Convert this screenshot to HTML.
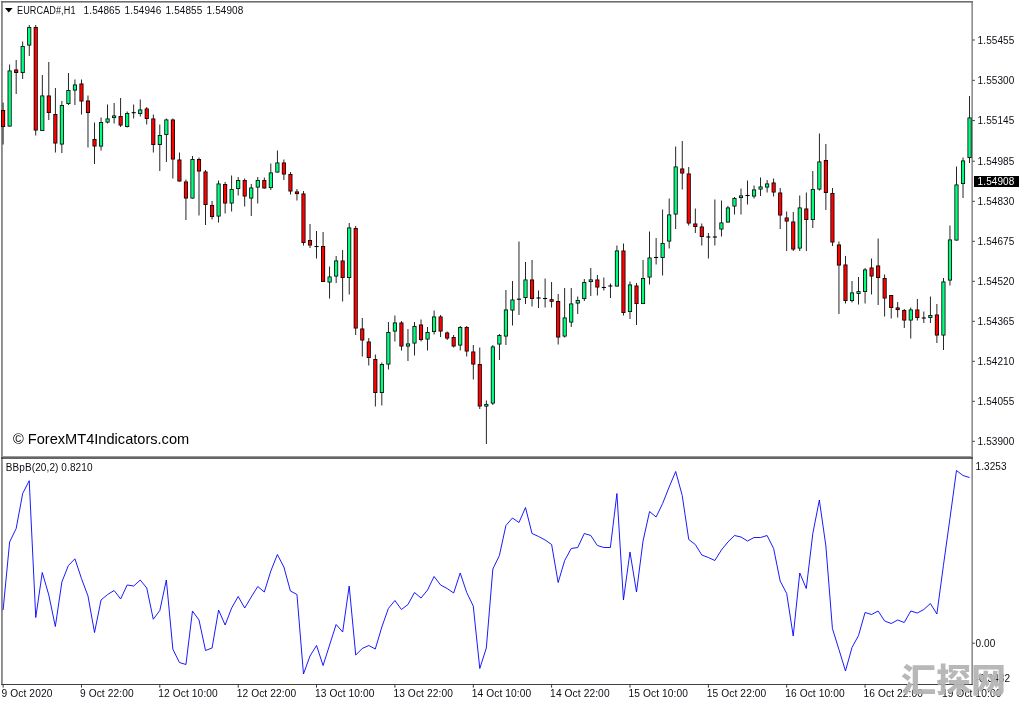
<!DOCTYPE html>
<html><head><meta charset="utf-8"><title>EURCAD#,H1</title>
<style>
html,body{margin:0;padding:0;background:#fff;}
body{width:1024px;height:704px;position:relative;overflow:hidden;font-family:"Liberation Sans","Noto Sans CJK SC",sans-serif;color:#000;}
.t{position:absolute;white-space:nowrap;font-size:10px;letter-spacing:0.1px;line-height:12px;color:#0c0c14;}
.p{left:977.6px;}
.wm{position:absolute;left:901.2px;top:654.4px;transform:scaleX(1.045);transform-origin:0 0;font-family:"Noto Sans CJK SC","WenQuanYi Zen Hei",sans-serif;font-weight:900;font-size:33.5px;line-height:48px;color:rgba(180,180,180,0.94);white-space:nowrap;letter-spacing:0px;}
.cp{position:absolute;left:974px;top:176px;width:45px;height:11px;background:#000;}
</style></head><body>
<svg width="1024" height="704" viewBox="0 0 1024 704" style="position:absolute;left:0;top:0">
<g fill="#6e6e6e">
<rect x="1" y="1" width="972" height="1.6"/>
<rect x="1.2" y="1" width="1.5" height="684"/>
<rect x="971.5" y="1" width="1.25" height="684"/>
</g>
<rect x="1" y="456" width="972" height="1.3" fill="#9a9a9a"/>
<rect x="1" y="457.3" width="972" height="1.45" fill="#333"/>
<rect x="1" y="684" width="971.8" height="1" fill="#404040"/>
<rect x="972.5" y="39.55" width="2.3" height="0.9" fill="#222"/>
<rect x="972.5" y="79.85" width="2.3" height="0.9" fill="#222"/>
<rect x="972.5" y="120.15" width="2.3" height="0.9" fill="#222"/>
<rect x="972.5" y="160.75" width="2.3" height="0.9" fill="#222"/>
<rect x="972.5" y="200.85" width="2.3" height="0.9" fill="#222"/>
<rect x="972.5" y="240.85" width="2.3" height="0.9" fill="#222"/>
<rect x="972.5" y="280.85" width="2.3" height="0.9" fill="#222"/>
<rect x="972.5" y="320.85" width="2.3" height="0.9" fill="#222"/>
<rect x="972.5" y="360.85" width="2.3" height="0.9" fill="#222"/>
<rect x="972.5" y="400.85" width="2.3" height="0.9" fill="#222"/>
<rect x="972.5" y="440.85" width="2.3" height="0.9" fill="#222"/>
<rect x="972.5" y="642.75" width="2.3" height="0.9" fill="#222"/>
<rect x="2.65" y="685" width="0.9" height="2.6" fill="#222"/>
<rect x="81.01" y="685" width="0.9" height="2.6" fill="#222"/>
<rect x="159.37" y="685" width="0.9" height="2.6" fill="#222"/>
<rect x="237.73" y="685" width="0.9" height="2.6" fill="#222"/>
<rect x="316.09" y="685" width="0.9" height="2.6" fill="#222"/>
<rect x="394.45" y="685" width="0.9" height="2.6" fill="#222"/>
<rect x="472.81" y="685" width="0.9" height="2.6" fill="#222"/>
<rect x="551.17" y="685" width="0.9" height="2.6" fill="#222"/>
<rect x="629.53" y="685" width="0.9" height="2.6" fill="#222"/>
<rect x="707.89" y="685" width="0.9" height="2.6" fill="#222"/>
<rect x="786.25" y="685" width="0.9" height="2.6" fill="#222"/>
<rect x="864.61" y="685" width="0.9" height="2.6" fill="#222"/>
<rect x="942.97" y="685" width="0.9" height="2.6" fill="#222"/>
<rect x="2.68" y="102.5" width="0.85" height="42" fill="#000"/>
<rect x="1.05" y="110" width="4.1" height="17" fill="#000"/>
<rect x="1.85" y="110.8" width="2.5" height="15.4" fill="#ff0000"/>
<rect x="9.21" y="64.5" width="0.85" height="62" fill="#000"/>
<rect x="7.58" y="70.5" width="4.1" height="56" fill="#000"/>
<rect x="8.38" y="71.3" width="2.5" height="54.4" fill="#00ff7f"/>
<rect x="15.73" y="60" width="0.85" height="34" fill="#000"/>
<rect x="14.11" y="69.5" width="4.1" height="3.5" fill="#000"/>
<rect x="14.91" y="70.3" width="2.5" height="1.9" fill="#ff0000"/>
<rect x="22.27" y="41.5" width="0.85" height="37.5" fill="#000"/>
<rect x="20.64" y="46" width="4.1" height="27" fill="#000"/>
<rect x="21.44" y="46.8" width="2.5" height="25.4" fill="#00ff7f"/>
<rect x="28.8" y="25" width="0.85" height="31" fill="#000"/>
<rect x="27.17" y="27" width="4.1" height="18.5" fill="#000"/>
<rect x="27.97" y="27.8" width="2.5" height="16.9" fill="#00ff7f"/>
<rect x="35.33" y="25" width="0.85" height="110.5" fill="#000"/>
<rect x="33.7" y="27" width="4.1" height="103.5" fill="#000"/>
<rect x="34.5" y="27.8" width="2.5" height="101.9" fill="#ff0000"/>
<rect x="41.86" y="75" width="0.85" height="56" fill="#000"/>
<rect x="40.23" y="95.5" width="4.1" height="35.5" fill="#000"/>
<rect x="41.03" y="96.3" width="2.5" height="33.9" fill="#00ff7f"/>
<rect x="48.39" y="62" width="0.85" height="58" fill="#000"/>
<rect x="46.76" y="95.5" width="4.1" height="17.5" fill="#000"/>
<rect x="47.56" y="96.3" width="2.5" height="15.9" fill="#ff0000"/>
<rect x="54.92" y="88" width="0.85" height="64.5" fill="#000"/>
<rect x="53.29" y="114" width="4.1" height="29.5" fill="#000"/>
<rect x="54.09" y="114.8" width="2.5" height="27.9" fill="#ff0000"/>
<rect x="61.45" y="101" width="0.85" height="52" fill="#000"/>
<rect x="59.82" y="105" width="4.1" height="39.5" fill="#000"/>
<rect x="60.62" y="105.8" width="2.5" height="37.9" fill="#00ff7f"/>
<rect x="67.97" y="73" width="0.85" height="32" fill="#000"/>
<rect x="66.35" y="90" width="4.1" height="14" fill="#000"/>
<rect x="67.15" y="90.8" width="2.5" height="12.4" fill="#00ff7f"/>
<rect x="74.5" y="79.5" width="0.85" height="25.5" fill="#000"/>
<rect x="72.88" y="84.5" width="4.1" height="6" fill="#000"/>
<rect x="73.68" y="85.3" width="2.5" height="4.4" fill="#00ff7f"/>
<rect x="81.03" y="79.5" width="0.85" height="35" fill="#000"/>
<rect x="79.41" y="83.5" width="4.1" height="18" fill="#000"/>
<rect x="80.21" y="84.3" width="2.5" height="16.4" fill="#ff0000"/>
<rect x="87.56" y="95.5" width="0.85" height="52" fill="#000"/>
<rect x="85.94" y="100.5" width="4.1" height="12.5" fill="#000"/>
<rect x="86.74" y="101.3" width="2.5" height="10.9" fill="#ff0000"/>
<rect x="94.09" y="122.5" width="0.85" height="41.5" fill="#000"/>
<rect x="92.47" y="139" width="4.1" height="7.5" fill="#000"/>
<rect x="93.27" y="139.8" width="2.5" height="5.9" fill="#ff0000"/>
<rect x="100.62" y="117.5" width="0.85" height="33" fill="#000"/>
<rect x="99" y="122" width="4.1" height="24.5" fill="#000"/>
<rect x="99.8" y="122.8" width="2.5" height="22.9" fill="#00ff7f"/>
<rect x="107.16" y="104.5" width="0.85" height="19" fill="#000"/>
<rect x="105.53" y="118.5" width="4.1" height="4" fill="#000"/>
<rect x="106.33" y="119.3" width="2.5" height="2.4" fill="#00ff7f"/>
<rect x="113.69" y="103" width="0.85" height="20.5" fill="#000"/>
<rect x="112.06" y="115.45" width="4.1" height="2.6" fill="#000"/>
<rect x="112.86" y="116.25" width="2.5" height="1" fill="#00ff7f"/>
<rect x="120.22" y="98" width="0.85" height="29" fill="#000"/>
<rect x="118.59" y="116" width="4.1" height="9.5" fill="#000"/>
<rect x="119.39" y="116.8" width="2.5" height="7.9" fill="#ff0000"/>
<rect x="126.75" y="111.5" width="0.85" height="16" fill="#000"/>
<rect x="125.12" y="113" width="4.1" height="14" fill="#000"/>
<rect x="125.92" y="113.8" width="2.5" height="12.4" fill="#00ff7f"/>
<rect x="133.27" y="104.5" width="0.85" height="14" fill="#000"/>
<rect x="131.65" y="112.15" width="4.1" height="1.1" fill="#000"/>
<rect x="139.8" y="99.5" width="0.85" height="17" fill="#000"/>
<rect x="138.18" y="109.5" width="4.1" height="4.5" fill="#000"/>
<rect x="138.98" y="110.3" width="2.5" height="2.9" fill="#00ff7f"/>
<rect x="146.33" y="107" width="0.85" height="17.5" fill="#000"/>
<rect x="144.71" y="108.5" width="4.1" height="10.5" fill="#000"/>
<rect x="145.51" y="109.3" width="2.5" height="8.9" fill="#ff0000"/>
<rect x="152.86" y="114.5" width="0.85" height="38" fill="#000"/>
<rect x="151.24" y="118.5" width="4.1" height="26.5" fill="#000"/>
<rect x="152.04" y="119.3" width="2.5" height="24.9" fill="#ff0000"/>
<rect x="159.39" y="124.5" width="0.85" height="46.5" fill="#000"/>
<rect x="157.77" y="135" width="4.1" height="10" fill="#000"/>
<rect x="158.57" y="135.8" width="2.5" height="8.4" fill="#00ff7f"/>
<rect x="165.92" y="118.5" width="0.85" height="43.5" fill="#000"/>
<rect x="164.3" y="119.5" width="4.1" height="15.5" fill="#000"/>
<rect x="165.1" y="120.3" width="2.5" height="13.9" fill="#00ff7f"/>
<rect x="172.45" y="118.5" width="0.85" height="60" fill="#000"/>
<rect x="170.83" y="119.5" width="4.1" height="40" fill="#000"/>
<rect x="171.63" y="120.3" width="2.5" height="38.4" fill="#ff0000"/>
<rect x="178.98" y="152.5" width="0.85" height="29" fill="#000"/>
<rect x="177.36" y="159.5" width="4.1" height="22" fill="#000"/>
<rect x="178.16" y="160.3" width="2.5" height="20.4" fill="#ff0000"/>
<rect x="185.51" y="179.5" width="0.85" height="40.5" fill="#000"/>
<rect x="183.89" y="181.5" width="4.1" height="17" fill="#000"/>
<rect x="184.69" y="182.3" width="2.5" height="15.4" fill="#ff0000"/>
<rect x="192.04" y="156" width="0.85" height="42.5" fill="#000"/>
<rect x="190.42" y="159" width="4.1" height="39.5" fill="#000"/>
<rect x="191.22" y="159.8" width="2.5" height="37.9" fill="#00ff7f"/>
<rect x="198.57" y="157.5" width="0.85" height="58" fill="#000"/>
<rect x="196.95" y="159" width="4.1" height="12.5" fill="#000"/>
<rect x="197.75" y="159.8" width="2.5" height="10.9" fill="#ff0000"/>
<rect x="205.1" y="170" width="0.85" height="55" fill="#000"/>
<rect x="203.48" y="171.5" width="4.1" height="33.5" fill="#000"/>
<rect x="204.28" y="172.3" width="2.5" height="31.9" fill="#ff0000"/>
<rect x="211.63" y="201" width="0.85" height="18.5" fill="#000"/>
<rect x="210.01" y="205" width="4.1" height="12" fill="#000"/>
<rect x="210.81" y="205.8" width="2.5" height="10.4" fill="#ff0000"/>
<rect x="218.16" y="180.5" width="0.85" height="42" fill="#000"/>
<rect x="216.54" y="183.5" width="4.1" height="33" fill="#000"/>
<rect x="217.34" y="184.3" width="2.5" height="31.4" fill="#00ff7f"/>
<rect x="224.69" y="182" width="0.85" height="31.5" fill="#000"/>
<rect x="223.07" y="184" width="4.1" height="19.5" fill="#000"/>
<rect x="223.87" y="184.8" width="2.5" height="17.9" fill="#ff0000"/>
<rect x="231.22" y="175.5" width="0.85" height="36" fill="#000"/>
<rect x="229.6" y="189" width="4.1" height="14.5" fill="#000"/>
<rect x="230.4" y="189.8" width="2.5" height="12.9" fill="#00ff7f"/>
<rect x="237.75" y="177" width="0.85" height="18.5" fill="#000"/>
<rect x="236.13" y="180" width="4.1" height="9" fill="#000"/>
<rect x="236.93" y="180.8" width="2.5" height="7.4" fill="#00ff7f"/>
<rect x="244.28" y="178.5" width="0.85" height="28" fill="#000"/>
<rect x="242.66" y="180" width="4.1" height="16.5" fill="#000"/>
<rect x="243.46" y="180.8" width="2.5" height="14.9" fill="#ff0000"/>
<rect x="250.81" y="184" width="0.85" height="32" fill="#000"/>
<rect x="249.19" y="187.5" width="4.1" height="11" fill="#000"/>
<rect x="249.99" y="188.3" width="2.5" height="9.4" fill="#00ff7f"/>
<rect x="257.35" y="177" width="0.85" height="26.5" fill="#000"/>
<rect x="255.72" y="180" width="4.1" height="7.5" fill="#000"/>
<rect x="256.52" y="180.8" width="2.5" height="5.9" fill="#00ff7f"/>
<rect x="263.88" y="177.5" width="0.85" height="11" fill="#000"/>
<rect x="262.25" y="180" width="4.1" height="8.5" fill="#000"/>
<rect x="263.05" y="180.8" width="2.5" height="6.9" fill="#ff0000"/>
<rect x="270.41" y="163.5" width="0.85" height="26.5" fill="#000"/>
<rect x="268.78" y="172.5" width="4.1" height="15.5" fill="#000"/>
<rect x="269.58" y="173.3" width="2.5" height="13.9" fill="#00ff7f"/>
<rect x="276.94" y="150.5" width="0.85" height="22" fill="#000"/>
<rect x="275.31" y="162.5" width="4.1" height="10" fill="#000"/>
<rect x="276.11" y="163.3" width="2.5" height="8.4" fill="#00ff7f"/>
<rect x="283.47" y="159.5" width="0.85" height="20.5" fill="#000"/>
<rect x="281.84" y="162.5" width="4.1" height="12" fill="#000"/>
<rect x="282.64" y="163.3" width="2.5" height="10.4" fill="#ff0000"/>
<rect x="290" y="172" width="0.85" height="22.5" fill="#000"/>
<rect x="288.37" y="174" width="4.1" height="17.5" fill="#000"/>
<rect x="289.17" y="174.8" width="2.5" height="15.9" fill="#ff0000"/>
<rect x="296.53" y="189" width="0.85" height="11.5" fill="#000"/>
<rect x="294.9" y="191.45" width="4.1" height="2.6" fill="#000"/>
<rect x="295.7" y="192.25" width="2.5" height="1" fill="#ff0000"/>
<rect x="303.06" y="191" width="0.85" height="54.5" fill="#000"/>
<rect x="301.43" y="193.5" width="4.1" height="49.5" fill="#000"/>
<rect x="302.23" y="194.3" width="2.5" height="47.9" fill="#ff0000"/>
<rect x="309.59" y="224" width="0.85" height="24" fill="#000"/>
<rect x="307.96" y="240" width="4.1" height="5.5" fill="#000"/>
<rect x="308.76" y="240.8" width="2.5" height="3.9" fill="#ff0000"/>
<rect x="316.12" y="231" width="0.85" height="27.5" fill="#000"/>
<rect x="314.49" y="245.95" width="4.1" height="1.1" fill="#000"/>
<rect x="322.65" y="232" width="0.85" height="50" fill="#000"/>
<rect x="321.02" y="246" width="4.1" height="36" fill="#000"/>
<rect x="321.82" y="246.8" width="2.5" height="34.4" fill="#ff0000"/>
<rect x="329.18" y="266.5" width="0.85" height="32" fill="#000"/>
<rect x="327.55" y="276.5" width="4.1" height="6" fill="#000"/>
<rect x="328.35" y="277.3" width="2.5" height="4.4" fill="#00ff7f"/>
<rect x="335.71" y="256" width="0.85" height="27" fill="#000"/>
<rect x="334.08" y="260.5" width="4.1" height="16" fill="#000"/>
<rect x="334.88" y="261.3" width="2.5" height="14.4" fill="#00ff7f"/>
<rect x="342.24" y="250" width="0.85" height="51.5" fill="#000"/>
<rect x="340.61" y="260.5" width="4.1" height="17.5" fill="#000"/>
<rect x="341.41" y="261.3" width="2.5" height="15.9" fill="#ff0000"/>
<rect x="348.77" y="223" width="0.85" height="71.5" fill="#000"/>
<rect x="347.14" y="227.5" width="4.1" height="50.5" fill="#000"/>
<rect x="347.94" y="228.3" width="2.5" height="48.9" fill="#00ff7f"/>
<rect x="355.3" y="226" width="0.85" height="109" fill="#000"/>
<rect x="353.67" y="228" width="4.1" height="100.5" fill="#000"/>
<rect x="354.47" y="228.8" width="2.5" height="98.9" fill="#ff0000"/>
<rect x="361.83" y="318" width="0.85" height="38.5" fill="#000"/>
<rect x="360.2" y="328.5" width="4.1" height="12" fill="#000"/>
<rect x="361" y="329.3" width="2.5" height="10.4" fill="#ff0000"/>
<rect x="368.36" y="338" width="0.85" height="27.5" fill="#000"/>
<rect x="366.73" y="341.5" width="4.1" height="16.5" fill="#000"/>
<rect x="367.53" y="342.3" width="2.5" height="14.9" fill="#ff0000"/>
<rect x="374.89" y="354.5" width="0.85" height="52" fill="#000"/>
<rect x="373.26" y="359" width="4.1" height="34" fill="#000"/>
<rect x="374.06" y="359.8" width="2.5" height="32.4" fill="#ff0000"/>
<rect x="381.42" y="362.5" width="0.85" height="43" fill="#000"/>
<rect x="379.79" y="364" width="4.1" height="29" fill="#000"/>
<rect x="380.59" y="364.8" width="2.5" height="27.4" fill="#00ff7f"/>
<rect x="387.95" y="322" width="0.85" height="47.5" fill="#000"/>
<rect x="386.32" y="332" width="4.1" height="32.5" fill="#000"/>
<rect x="387.12" y="332.8" width="2.5" height="30.9" fill="#00ff7f"/>
<rect x="394.48" y="315.5" width="0.85" height="26" fill="#000"/>
<rect x="392.85" y="322.5" width="4.1" height="9" fill="#000"/>
<rect x="393.65" y="323.3" width="2.5" height="7.4" fill="#00ff7f"/>
<rect x="401.01" y="321" width="0.85" height="29.5" fill="#000"/>
<rect x="399.38" y="322.5" width="4.1" height="24" fill="#000"/>
<rect x="400.18" y="323.3" width="2.5" height="22.4" fill="#ff0000"/>
<rect x="407.54" y="329" width="0.85" height="32" fill="#000"/>
<rect x="405.91" y="343.5" width="4.1" height="3" fill="#000"/>
<rect x="406.71" y="344.3" width="2.5" height="1.4" fill="#00ff7f"/>
<rect x="414.07" y="322" width="0.85" height="33.5" fill="#000"/>
<rect x="412.44" y="326" width="4.1" height="17.5" fill="#000"/>
<rect x="413.24" y="326.8" width="2.5" height="15.9" fill="#00ff7f"/>
<rect x="420.6" y="319.5" width="0.85" height="22" fill="#000"/>
<rect x="418.97" y="324.5" width="4.1" height="15.5" fill="#000"/>
<rect x="419.77" y="325.3" width="2.5" height="13.9" fill="#ff0000"/>
<rect x="427.12" y="327" width="0.85" height="23.5" fill="#000"/>
<rect x="425.5" y="332" width="4.1" height="7.5" fill="#000"/>
<rect x="426.3" y="332.8" width="2.5" height="5.9" fill="#00ff7f"/>
<rect x="433.66" y="310.5" width="0.85" height="24" fill="#000"/>
<rect x="432.03" y="316.5" width="4.1" height="15.5" fill="#000"/>
<rect x="432.83" y="317.3" width="2.5" height="13.9" fill="#00ff7f"/>
<rect x="440.19" y="315" width="0.85" height="22" fill="#000"/>
<rect x="438.56" y="316.5" width="4.1" height="15" fill="#000"/>
<rect x="439.36" y="317.3" width="2.5" height="13.4" fill="#ff0000"/>
<rect x="446.72" y="331.5" width="0.85" height="8.5" fill="#000"/>
<rect x="445.09" y="332.5" width="4.1" height="6" fill="#000"/>
<rect x="445.89" y="333.3" width="2.5" height="4.4" fill="#ff0000"/>
<rect x="453.25" y="335" width="0.85" height="12.5" fill="#000"/>
<rect x="451.62" y="337" width="4.1" height="9.5" fill="#000"/>
<rect x="452.42" y="337.8" width="2.5" height="7.9" fill="#ff0000"/>
<rect x="459.78" y="326" width="0.85" height="24.5" fill="#000"/>
<rect x="458.15" y="327" width="4.1" height="18.5" fill="#000"/>
<rect x="458.95" y="327.8" width="2.5" height="16.9" fill="#00ff7f"/>
<rect x="466.31" y="326" width="0.85" height="30.5" fill="#000"/>
<rect x="464.68" y="327" width="4.1" height="24.5" fill="#000"/>
<rect x="465.48" y="327.8" width="2.5" height="22.9" fill="#ff0000"/>
<rect x="472.84" y="345" width="0.85" height="34.5" fill="#000"/>
<rect x="471.21" y="351.5" width="4.1" height="13" fill="#000"/>
<rect x="472.01" y="352.3" width="2.5" height="11.4" fill="#ff0000"/>
<rect x="479.37" y="347.5" width="0.85" height="61.5" fill="#000"/>
<rect x="477.74" y="364" width="4.1" height="42.5" fill="#000"/>
<rect x="478.54" y="364.8" width="2.5" height="40.9" fill="#ff0000"/>
<rect x="485.9" y="400.5" width="0.85" height="43.5" fill="#000"/>
<rect x="484.27" y="403.95" width="4.1" height="2.6" fill="#000"/>
<rect x="485.07" y="404.75" width="2.5" height="1" fill="#00ff7f"/>
<rect x="492.43" y="345" width="0.85" height="60" fill="#000"/>
<rect x="490.8" y="346.5" width="4.1" height="57" fill="#000"/>
<rect x="491.6" y="347.3" width="2.5" height="55.4" fill="#00ff7f"/>
<rect x="498.96" y="334" width="0.85" height="26" fill="#000"/>
<rect x="497.33" y="335" width="4.1" height="9.5" fill="#000"/>
<rect x="498.13" y="335.8" width="2.5" height="7.9" fill="#00ff7f"/>
<rect x="505.49" y="290" width="0.85" height="55" fill="#000"/>
<rect x="503.86" y="309.5" width="4.1" height="27" fill="#000"/>
<rect x="504.66" y="310.3" width="2.5" height="25.4" fill="#00ff7f"/>
<rect x="512.02" y="281" width="0.85" height="44.5" fill="#000"/>
<rect x="510.39" y="299.5" width="4.1" height="11" fill="#000"/>
<rect x="511.19" y="300.3" width="2.5" height="9.4" fill="#00ff7f"/>
<rect x="518.55" y="241.5" width="0.85" height="73.5" fill="#000"/>
<rect x="516.92" y="298.65" width="4.1" height="1.1" fill="#000"/>
<rect x="525.08" y="262" width="0.85" height="42" fill="#000"/>
<rect x="523.45" y="279.5" width="4.1" height="18.5" fill="#000"/>
<rect x="524.25" y="280.3" width="2.5" height="16.9" fill="#00ff7f"/>
<rect x="531.61" y="260" width="0.85" height="46.5" fill="#000"/>
<rect x="529.98" y="279.5" width="4.1" height="19.5" fill="#000"/>
<rect x="530.78" y="280.3" width="2.5" height="17.9" fill="#ff0000"/>
<rect x="538.14" y="290.5" width="0.85" height="17.5" fill="#000"/>
<rect x="536.51" y="297.45" width="4.1" height="1.1" fill="#000"/>
<rect x="544.67" y="278.5" width="0.85" height="29" fill="#000"/>
<rect x="543.04" y="297.95" width="4.1" height="1.1" fill="#000"/>
<rect x="551.2" y="282" width="0.85" height="25.5" fill="#000"/>
<rect x="549.57" y="299.2" width="4.1" height="2.6" fill="#000"/>
<rect x="550.37" y="300" width="2.5" height="1" fill="#ff0000"/>
<rect x="557.73" y="294" width="0.85" height="50.5" fill="#000"/>
<rect x="556.1" y="301" width="4.1" height="36.5" fill="#000"/>
<rect x="556.9" y="301.8" width="2.5" height="34.9" fill="#ff0000"/>
<rect x="564.26" y="288" width="0.85" height="49.5" fill="#000"/>
<rect x="562.63" y="317.5" width="4.1" height="19" fill="#000"/>
<rect x="563.43" y="318.3" width="2.5" height="17.4" fill="#00ff7f"/>
<rect x="570.79" y="288" width="0.85" height="39" fill="#000"/>
<rect x="569.16" y="303.5" width="4.1" height="19" fill="#000"/>
<rect x="569.96" y="304.3" width="2.5" height="17.4" fill="#00ff7f"/>
<rect x="577.32" y="296.5" width="0.85" height="17.5" fill="#000"/>
<rect x="575.69" y="300" width="4.1" height="3.5" fill="#000"/>
<rect x="576.49" y="300.8" width="2.5" height="1.9" fill="#00ff7f"/>
<rect x="583.85" y="279" width="0.85" height="22" fill="#000"/>
<rect x="582.22" y="282" width="4.1" height="17" fill="#000"/>
<rect x="583.02" y="282.8" width="2.5" height="15.4" fill="#00ff7f"/>
<rect x="590.38" y="268" width="0.85" height="28" fill="#000"/>
<rect x="588.75" y="279.45" width="4.1" height="2.6" fill="#000"/>
<rect x="589.55" y="280.25" width="2.5" height="1" fill="#00ff7f"/>
<rect x="596.91" y="275" width="0.85" height="20.5" fill="#000"/>
<rect x="595.28" y="279.5" width="4.1" height="8" fill="#000"/>
<rect x="596.08" y="280.3" width="2.5" height="6.4" fill="#ff0000"/>
<rect x="603.44" y="277.5" width="0.85" height="13" fill="#000"/>
<rect x="601.81" y="286.95" width="4.1" height="1.1" fill="#000"/>
<rect x="609.97" y="283.5" width="0.85" height="14.5" fill="#000"/>
<rect x="608.34" y="285.45" width="4.1" height="1.1" fill="#000"/>
<rect x="616.5" y="245.5" width="0.85" height="41" fill="#000"/>
<rect x="614.87" y="250.5" width="4.1" height="36" fill="#000"/>
<rect x="615.67" y="251.3" width="2.5" height="34.4" fill="#00ff7f"/>
<rect x="623.03" y="243.5" width="0.85" height="72" fill="#000"/>
<rect x="621.4" y="250.5" width="4.1" height="62.5" fill="#000"/>
<rect x="622.2" y="251.3" width="2.5" height="60.9" fill="#ff0000"/>
<rect x="629.56" y="281.5" width="0.85" height="37.5" fill="#000"/>
<rect x="627.93" y="284.5" width="4.1" height="27.5" fill="#000"/>
<rect x="628.73" y="285.3" width="2.5" height="25.9" fill="#00ff7f"/>
<rect x="636.09" y="283" width="0.85" height="42" fill="#000"/>
<rect x="634.46" y="285.5" width="4.1" height="18.5" fill="#000"/>
<rect x="635.26" y="286.3" width="2.5" height="16.9" fill="#ff0000"/>
<rect x="642.62" y="260" width="0.85" height="44" fill="#000"/>
<rect x="640.99" y="278" width="4.1" height="26" fill="#000"/>
<rect x="641.79" y="278.8" width="2.5" height="24.4" fill="#00ff7f"/>
<rect x="649.15" y="231.5" width="0.85" height="53" fill="#000"/>
<rect x="647.52" y="257.5" width="4.1" height="20" fill="#000"/>
<rect x="648.32" y="258.3" width="2.5" height="18.4" fill="#00ff7f"/>
<rect x="655.68" y="238" width="0.85" height="26.5" fill="#000"/>
<rect x="654.05" y="256.95" width="4.1" height="1.1" fill="#000"/>
<rect x="662.21" y="209.5" width="0.85" height="66" fill="#000"/>
<rect x="660.58" y="243" width="4.1" height="15" fill="#000"/>
<rect x="661.38" y="243.8" width="2.5" height="13.4" fill="#00ff7f"/>
<rect x="668.74" y="198.5" width="0.85" height="50" fill="#000"/>
<rect x="667.11" y="214.5" width="4.1" height="27" fill="#000"/>
<rect x="667.91" y="215.3" width="2.5" height="25.4" fill="#00ff7f"/>
<rect x="675.27" y="146.5" width="0.85" height="82.5" fill="#000"/>
<rect x="673.64" y="166.5" width="4.1" height="48" fill="#000"/>
<rect x="674.44" y="167.3" width="2.5" height="46.4" fill="#00ff7f"/>
<rect x="681.8" y="141" width="0.85" height="48.5" fill="#000"/>
<rect x="680.17" y="168.5" width="4.1" height="5" fill="#000"/>
<rect x="680.97" y="169.3" width="2.5" height="3.4" fill="#ff0000"/>
<rect x="688.33" y="167" width="0.85" height="58.5" fill="#000"/>
<rect x="686.7" y="173.5" width="4.1" height="50" fill="#000"/>
<rect x="687.5" y="174.3" width="2.5" height="48.4" fill="#ff0000"/>
<rect x="694.86" y="208.5" width="0.85" height="24.5" fill="#000"/>
<rect x="693.23" y="223.5" width="4.1" height="3.5" fill="#000"/>
<rect x="694.03" y="224.3" width="2.5" height="1.9" fill="#ff0000"/>
<rect x="701.39" y="223.5" width="0.85" height="22" fill="#000"/>
<rect x="699.76" y="226.5" width="4.1" height="10.5" fill="#000"/>
<rect x="700.56" y="227.3" width="2.5" height="8.9" fill="#ff0000"/>
<rect x="707.92" y="233" width="0.85" height="25.5" fill="#000"/>
<rect x="706.29" y="236.45" width="4.1" height="1.1" fill="#000"/>
<rect x="714.45" y="199.5" width="0.85" height="46" fill="#000"/>
<rect x="712.82" y="236.45" width="4.1" height="1.1" fill="#000"/>
<rect x="720.98" y="200.5" width="0.85" height="36" fill="#000"/>
<rect x="719.35" y="222.5" width="4.1" height="7" fill="#000"/>
<rect x="720.15" y="223.3" width="2.5" height="5.4" fill="#00ff7f"/>
<rect x="727.51" y="206" width="0.85" height="16.5" fill="#000"/>
<rect x="725.88" y="207.5" width="4.1" height="15" fill="#000"/>
<rect x="726.68" y="208.3" width="2.5" height="13.4" fill="#00ff7f"/>
<rect x="734.04" y="197" width="0.85" height="17.5" fill="#000"/>
<rect x="732.41" y="198" width="4.1" height="8.5" fill="#000"/>
<rect x="733.21" y="198.8" width="2.5" height="6.9" fill="#00ff7f"/>
<rect x="740.57" y="188.5" width="0.85" height="26" fill="#000"/>
<rect x="738.94" y="195.45" width="4.1" height="2.6" fill="#000"/>
<rect x="739.74" y="196.25" width="2.5" height="1" fill="#00ff7f"/>
<rect x="747.1" y="180.5" width="0.85" height="24" fill="#000"/>
<rect x="745.47" y="194.95" width="4.1" height="1.1" fill="#000"/>
<rect x="753.63" y="185.5" width="0.85" height="13" fill="#000"/>
<rect x="752" y="189.5" width="4.1" height="7" fill="#000"/>
<rect x="752.8" y="190.3" width="2.5" height="5.4" fill="#00ff7f"/>
<rect x="760.16" y="177.5" width="0.85" height="18.5" fill="#000"/>
<rect x="758.53" y="186.5" width="4.1" height="3" fill="#000"/>
<rect x="759.33" y="187.3" width="2.5" height="1.4" fill="#00ff7f"/>
<rect x="766.69" y="180" width="0.85" height="12.5" fill="#000"/>
<rect x="765.06" y="183.5" width="4.1" height="4" fill="#000"/>
<rect x="765.86" y="184.3" width="2.5" height="2.4" fill="#00ff7f"/>
<rect x="773.22" y="178.5" width="0.85" height="18" fill="#000"/>
<rect x="771.59" y="182.5" width="4.1" height="10" fill="#000"/>
<rect x="772.39" y="183.3" width="2.5" height="8.4" fill="#ff0000"/>
<rect x="779.75" y="188" width="0.85" height="41" fill="#000"/>
<rect x="778.12" y="192.5" width="4.1" height="23" fill="#000"/>
<rect x="778.92" y="193.3" width="2.5" height="21.4" fill="#ff0000"/>
<rect x="786.28" y="211.5" width="0.85" height="39.5" fill="#000"/>
<rect x="784.65" y="217.5" width="4.1" height="4" fill="#000"/>
<rect x="785.45" y="218.3" width="2.5" height="2.4" fill="#ff0000"/>
<rect x="792.81" y="212" width="0.85" height="39" fill="#000"/>
<rect x="791.18" y="221.5" width="4.1" height="28" fill="#000"/>
<rect x="791.98" y="222.3" width="2.5" height="26.4" fill="#ff0000"/>
<rect x="799.34" y="195.5" width="0.85" height="55.5" fill="#000"/>
<rect x="797.71" y="207.5" width="4.1" height="41" fill="#000"/>
<rect x="798.51" y="208.3" width="2.5" height="39.4" fill="#00ff7f"/>
<rect x="805.87" y="192.5" width="0.85" height="58.5" fill="#000"/>
<rect x="804.24" y="208.5" width="4.1" height="11.5" fill="#000"/>
<rect x="805.04" y="209.3" width="2.5" height="9.9" fill="#ff0000"/>
<rect x="812.4" y="171" width="0.85" height="57" fill="#000"/>
<rect x="810.77" y="189" width="4.1" height="31" fill="#000"/>
<rect x="811.57" y="189.8" width="2.5" height="29.4" fill="#00ff7f"/>
<rect x="818.93" y="133.5" width="0.85" height="57" fill="#000"/>
<rect x="817.3" y="161.5" width="4.1" height="28" fill="#000"/>
<rect x="818.1" y="162.3" width="2.5" height="26.4" fill="#00ff7f"/>
<rect x="825.46" y="144" width="0.85" height="66" fill="#000"/>
<rect x="823.83" y="160" width="4.1" height="33" fill="#000"/>
<rect x="824.63" y="160.8" width="2.5" height="31.4" fill="#ff0000"/>
<rect x="831.99" y="188" width="0.85" height="58" fill="#000"/>
<rect x="830.36" y="193" width="4.1" height="49.5" fill="#000"/>
<rect x="831.16" y="193.8" width="2.5" height="47.9" fill="#ff0000"/>
<rect x="838.52" y="241.5" width="0.85" height="72.5" fill="#000"/>
<rect x="836.89" y="244.5" width="4.1" height="21" fill="#000"/>
<rect x="837.69" y="245.3" width="2.5" height="19.4" fill="#ff0000"/>
<rect x="845.05" y="256" width="0.85" height="47.5" fill="#000"/>
<rect x="843.42" y="264.5" width="4.1" height="36.5" fill="#000"/>
<rect x="844.22" y="265.3" width="2.5" height="34.9" fill="#ff0000"/>
<rect x="851.58" y="281" width="0.85" height="21.5" fill="#000"/>
<rect x="849.95" y="292.5" width="4.1" height="8.5" fill="#000"/>
<rect x="850.75" y="293.3" width="2.5" height="6.9" fill="#00ff7f"/>
<rect x="858.11" y="277" width="0.85" height="27.5" fill="#000"/>
<rect x="856.48" y="291.2" width="4.1" height="2.6" fill="#000"/>
<rect x="857.28" y="292" width="2.5" height="1" fill="#00ff7f"/>
<rect x="864.64" y="268" width="0.85" height="35.5" fill="#000"/>
<rect x="863.01" y="269.5" width="4.1" height="22.5" fill="#000"/>
<rect x="863.81" y="270.3" width="2.5" height="20.9" fill="#00ff7f"/>
<rect x="871.17" y="258.5" width="0.85" height="36" fill="#000"/>
<rect x="869.54" y="267.5" width="4.1" height="9" fill="#000"/>
<rect x="870.34" y="268.3" width="2.5" height="7.4" fill="#ff0000"/>
<rect x="877.7" y="238.5" width="0.85" height="66.5" fill="#000"/>
<rect x="876.07" y="265.5" width="4.1" height="12.5" fill="#000"/>
<rect x="876.87" y="266.3" width="2.5" height="10.9" fill="#ff0000"/>
<rect x="884.23" y="274.5" width="0.85" height="42" fill="#000"/>
<rect x="882.6" y="278" width="4.1" height="20.5" fill="#000"/>
<rect x="883.4" y="278.8" width="2.5" height="18.9" fill="#ff0000"/>
<rect x="890.76" y="295" width="0.85" height="23.5" fill="#000"/>
<rect x="889.13" y="295" width="4.1" height="13" fill="#000"/>
<rect x="889.93" y="295.8" width="2.5" height="11.4" fill="#ff0000"/>
<rect x="897.29" y="302" width="0.85" height="15.5" fill="#000"/>
<rect x="895.66" y="307.45" width="4.1" height="2.6" fill="#000"/>
<rect x="896.46" y="308.25" width="2.5" height="1" fill="#ff0000"/>
<rect x="903.82" y="309" width="0.85" height="19" fill="#000"/>
<rect x="902.19" y="310" width="4.1" height="10.5" fill="#000"/>
<rect x="902.99" y="310.8" width="2.5" height="8.9" fill="#ff0000"/>
<rect x="910.35" y="307.5" width="0.85" height="31" fill="#000"/>
<rect x="908.72" y="309.5" width="4.1" height="11" fill="#000"/>
<rect x="909.52" y="310.3" width="2.5" height="9.4" fill="#00ff7f"/>
<rect x="916.88" y="299" width="0.85" height="21.5" fill="#000"/>
<rect x="915.25" y="309.5" width="4.1" height="8.5" fill="#000"/>
<rect x="916.05" y="310.3" width="2.5" height="6.9" fill="#ff0000"/>
<rect x="923.41" y="311.5" width="0.85" height="11.5" fill="#000"/>
<rect x="921.78" y="317.45" width="4.1" height="1.1" fill="#000"/>
<rect x="929.94" y="296.5" width="0.85" height="26.5" fill="#000"/>
<rect x="928.31" y="315" width="4.1" height="3" fill="#000"/>
<rect x="929.11" y="315.8" width="2.5" height="1.4" fill="#00ff7f"/>
<rect x="936.47" y="304" width="0.85" height="39" fill="#000"/>
<rect x="934.84" y="314.5" width="4.1" height="21" fill="#000"/>
<rect x="935.64" y="315.3" width="2.5" height="19.4" fill="#ff0000"/>
<rect x="943" y="278" width="0.85" height="72" fill="#000"/>
<rect x="941.37" y="281.5" width="4.1" height="54" fill="#000"/>
<rect x="942.17" y="282.3" width="2.5" height="52.4" fill="#00ff7f"/>
<rect x="949.53" y="225.5" width="0.85" height="60" fill="#000"/>
<rect x="947.9" y="239.5" width="4.1" height="41" fill="#000"/>
<rect x="948.7" y="240.3" width="2.5" height="39.4" fill="#00ff7f"/>
<rect x="956.06" y="166.5" width="0.85" height="74" fill="#000"/>
<rect x="954.43" y="184.5" width="4.1" height="56" fill="#000"/>
<rect x="955.23" y="185.3" width="2.5" height="54.4" fill="#00ff7f"/>
<rect x="962.59" y="157.5" width="0.85" height="40.5" fill="#000"/>
<rect x="960.96" y="160.5" width="4.1" height="23.5" fill="#000"/>
<rect x="961.76" y="161.3" width="2.5" height="21.9" fill="#00ff7f"/>
<rect x="969.12" y="96" width="0.85" height="67" fill="#000"/>
<rect x="967.49" y="117.5" width="4.1" height="40.5" fill="#000"/>
<rect x="968.29" y="118.3" width="2.5" height="38.9" fill="#00ff7f"/>
<polyline points="3.1,610 9.63,542 16.16,528.5 22.69,493.5 29.22,480.7 35.75,617.5 42.28,572.5 48.81,595 55.34,626.5 61.87,582 68.4,565.5 74.93,558.8 81.46,578.5 87.99,596 94.52,632.5 101.05,600 107.58,594.5 114.11,590.5 120.64,599 127.17,585 133.7,586 140.23,580 146.76,588 153.29,619.25 159.82,610.5 166.35,580 172.88,649.25 179.41,662.5 185.94,664.5 192.47,611 199,620 205.53,650.5 212.06,648 218.59,610 225.12,625 231.65,608 238.18,596.5 244.71,608 251.24,597 257.77,586.5 264.3,592 270.83,571 277.36,554.5 283.89,567 290.42,591 296.95,594.5 303.48,674 310.01,656 316.54,645.5 323.07,665.5 329.6,645 336.13,624.5 342.66,632 349.19,586 355.72,655 362.25,648.5 368.78,645.5 375.31,649 381.84,627 388.37,608.5 394.9,600.5 401.43,609.5 407.96,604.5 414.49,592.5 421.02,598 427.55,590 434.08,576.5 440.61,585 447.14,588.5 453.67,593 460.2,573 466.73,592.5 473.26,606 479.79,668.5 486.32,648 492.85,569 499.38,555.5 505.91,525.5 512.44,518 518.97,522.5 525.5,507.5 532.03,533.5 538.56,536.5 545.09,540 551.62,544.5 558.15,582.5 564.68,560.5 571.21,548.5 577.74,547.5 584.27,533.5 590.8,535.5 597.33,545.5 603.86,547.5 610.39,547.5 616.92,493.5 623.45,600 629.98,552 636.51,592 643.04,541 649.57,511.5 656.1,517 662.63,503.5 669.16,487 675.69,471.5 682.22,495.5 688.75,539.5 695.28,544.5 701.81,555 708.34,557.5 714.87,560.5 721.4,550 727.93,542 734.46,535.5 740.99,537 747.52,541 754.05,537.5 760.58,537.5 767.11,535.5 773.64,548.5 780.17,581 786.7,593.5 793.23,636 799.76,573 806.29,588.5 812.82,533.5 819.35,500 825.88,546 832.41,628.5 838.94,649.5 845.47,671 852,647.5 858.53,635.5 865.06,612.5 871.59,614.5 878.12,611 884.65,621 891.18,623.5 897.71,620 904.24,622.5 910.77,611 917.3,613 923.83,609.5 930.36,603.5 936.89,614 943.42,565.5 949.95,518.5 956.48,470.5 963.01,475.5 969.54,477.5" fill="none" stroke="#0000ff" stroke-width="0.9" stroke-linejoin="miter"/>
<path d="M5 8 L12.6 8 L8.8 12.4 Z" fill="#000"/>
</svg>
<div class="t" style="left:17.3px;top:5px;transform:scaleX(0.91);transform-origin:0 0">EURCAD#,H1</div>
<div class="t" style="left:83.6px;top:5px">1.54865</div>
<div class="t" style="left:124.6px;top:5px">1.54946</div>
<div class="t" style="left:165.6px;top:5px">1.54855</div>
<div class="t" style="left:206.6px;top:5px">1.54908</div>
<div class="t p" style="top:34.8px">1.55455</div>
<div class="t p" style="top:75.1px">1.55300</div>
<div class="t p" style="top:115.4px">1.55145</div>
<div class="t p" style="top:156px">1.54985</div>
<div class="t p" style="top:196.1px">1.54830</div>
<div class="t p" style="top:236.1px">1.54675</div>
<div class="t p" style="top:276.1px">1.54520</div>
<div class="t p" style="top:316.1px">1.54365</div>
<div class="t p" style="top:356.1px">1.54210</div>
<div class="t p" style="top:396.1px">1.54055</div>
<div class="t p" style="top:436.1px">1.53900</div>
<div class="cp"></div><div class="t p" style="top:176px;color:#fff">1.54908</div>
<div class="t" style="left:13px;top:431px;font-size:14.6px;letter-spacing:0;line-height:16px;color:#000">© ForexMT4Indicators.com</div>
<div class="t" style="left:5.8px;top:462.2px">BBpB(20,2) 0.8210</div>
<div class="t" style="left:975.5px;top:460.8px">1.3253</div>
<div class="t" style="left:975.5px;top:637.8px">0.00</div>
<div class="t" style="left:975.5px;top:673px">-0.3432</div>
<div class="t" style="left:1.6px;top:688.3px;font-size:10.2px">9 Oct 2020</div>
<div class="t" style="left:79.96px;top:688.3px;font-size:10.2px">9 Oct 22:00</div>
<div class="t" style="left:158.32px;top:688.3px;font-size:10.2px">12 Oct 10:00</div>
<div class="t" style="left:236.68px;top:688.3px;font-size:10.2px">12 Oct 22:00</div>
<div class="t" style="left:315.04px;top:688.3px;font-size:10.2px">13 Oct 10:00</div>
<div class="t" style="left:393.4px;top:688.3px;font-size:10.2px">13 Oct 22:00</div>
<div class="t" style="left:471.76px;top:688.3px;font-size:10.2px">14 Oct 10:00</div>
<div class="t" style="left:550.12px;top:688.3px;font-size:10.2px">14 Oct 22:00</div>
<div class="t" style="left:628.48px;top:688.3px;font-size:10.2px">15 Oct 10:00</div>
<div class="t" style="left:706.84px;top:688.3px;font-size:10.2px">15 Oct 22:00</div>
<div class="t" style="left:785.2px;top:688.3px;font-size:10.2px">16 Oct 10:00</div>
<div class="t" style="left:863.56px;top:688.3px;font-size:10.2px">16 Oct 22:00</div>
<div class="t" style="left:941.92px;top:688.3px;font-size:10.2px">19 Oct 10:00</div>
<div class="wm">汇探网</div>
</body></html>
